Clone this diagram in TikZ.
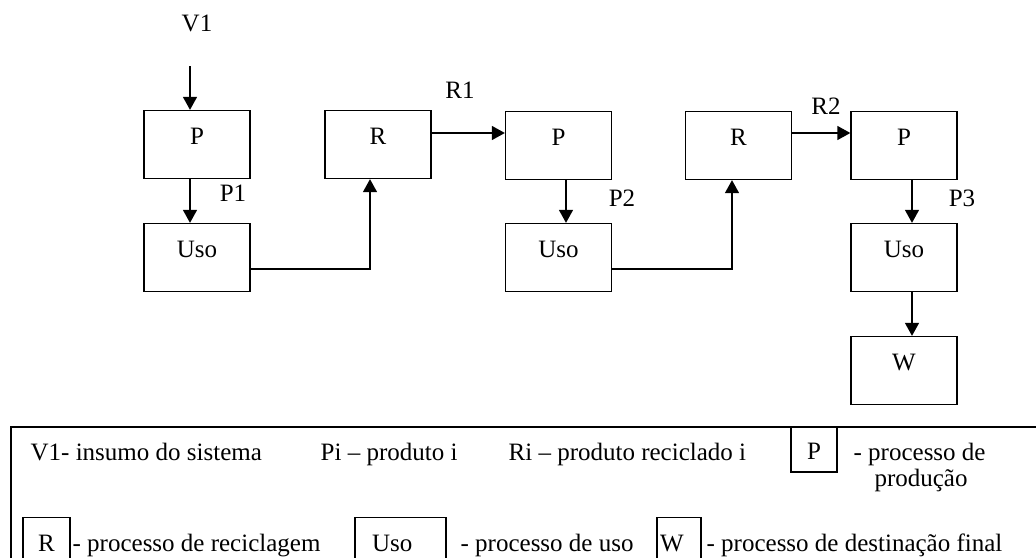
\documentclass[tikz,border=0pt]{standalone}
\usepackage{fontspec}
\setmainfont{Liberation Serif}
\usetikzlibrary{arrows.meta}
\begin{document}
\begin{tikzpicture}[x=1pt,y=-1pt,line width=1.3pt,
  every node/.style={inner sep=0pt,font=\fontsize{25}{30}\selectfont},
  proc/.style={draw,minimum width=106pt,minimum height=68pt,text height=12pt,text depth=12pt},
  legbox/.style={draw,anchor=north,minimum height=60pt,text height=17pt,text depth=8.5pt},
  flow/.style={-{Triangle[length=13pt,width=14pt]}}]
\clip (0,0) rectangle (1036,557);
\node (v1) at (197,23) {V1};
\coordinate (v1in) at (190,66);
\node[proc] (pa) at (197,144.5) {P};
\node[proc] (ua) at (197,257.5) {Uso};
\node[proc] (ra) at (378,144.5) {R};
\node[proc] (pb) at (558.5,145.5) {P};
\node[proc] (ub) at (558.5,257.5) {Uso};
\node[proc] (rb) at (738.5,145.5) {R};
\node[proc] (pc) at (904,145.5) {P};
\node[proc] (uc) at (904,257.5) {Uso};
\node[proc] (w) at (904,370.5) {W};
\node (p1) at (233,193) {P1};
\node (p2) at (622,198) {P2};
\node (p3) at (962,198) {P3};
\node (r1) at (460,90) {R1};
\node (r2) at (826,106) {R2};
\draw[flow] (v1in) -- (v1in |- pa.north);
\draw[flow] ([xshift=-7pt]pa.south) -- ([xshift=-7pt]ua.north);
\draw[flow] ([yshift=-11.5pt]ua.east) -| ([xshift=-8pt]ra.south);
\draw[flow] ([yshift=11.5pt]ra.east) -- ([yshift=11.5pt]ra.east -| pb.west);
\draw[flow] ([xshift=7.5pt]pb.south) -- ([xshift=7.5pt]ub.north);
\draw[flow] ([yshift=-11.5pt]ub.east) -| ([xshift=-6.5pt]rb.south);
\draw[flow] ([yshift=12.5pt]rb.east) -- ([yshift=12.5pt]rb.east -| pc.west);
\draw[flow] ([xshift=8pt]pc.south) -- ([xshift=8pt]uc.north);
\draw[flow] ([xshift=8pt]uc.south) -- ([xshift=8pt]w.north);
\draw[line width=1.6pt] (11,427) rectangle (1060,600);
\node[anchor=base west] (t1) at (30,460) {V1- insumo do sistema};
\node[anchor=base west] (t2) at (320,460) {Pi – produto i};
\node[anchor=base west] (t3) at (508,460) {Ri – produto reciclado i};
\node[draw,minimum width=46pt,minimum height=45pt,text height=20pt] (lp) at (814,449.5) {P};
\node[anchor=base west] (t4) at (853,460) {- processo de};
\node[anchor=base] (t5) at (921,486) {produção};
\node[legbox,minimum width=47pt] (lr) at (46.5,517) {R};
\node[anchor=base west] (t6) at (72,551) {- processo de reciclagem};
\node[legbox,text width=57pt,inner xsep=17pt,align=left] (lu) at (400.5,517) {Uso};
\node[anchor=base west] (t7) at (460,551) {- processo de uso};
\node[legbox,text width=38pt,inner xsep=3pt,align=left] (lw) at (679,517) {W};
\node[anchor=base west] (t8) at (706,551) {- processo de destinação final};
\end{tikzpicture}
\end{document}
